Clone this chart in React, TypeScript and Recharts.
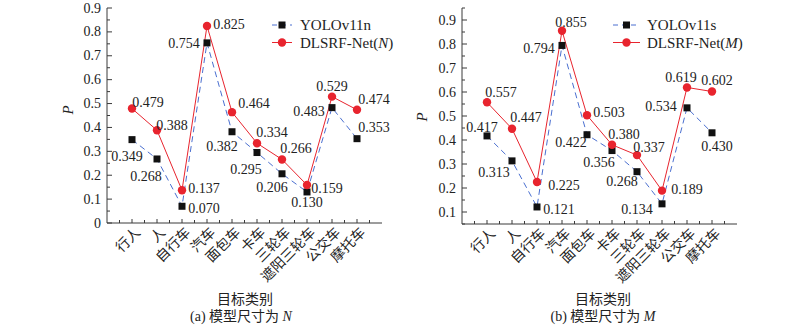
import React from 'react';
import { LineChart, Line, XAxis, YAxis, LabelList } from 'recharts';

const categories = ['行人', '人', '自行车', '汽车', '面包车', '卡车', '三轮车', '遮阳三轮车', '公交车', '摩托车'];
const yoloN = [0.349, 0.268, 0.070, 0.754, 0.382, 0.295, 0.206, 0.130, 0.483, 0.353];
const dlsrfN = [0.479, 0.388, 0.137, 0.825, 0.464, 0.334, 0.266, 0.159, 0.529, 0.474];
const yoloS = [0.417, 0.313, 0.121, 0.794, 0.422, 0.356, 0.268, 0.134, 0.534, 0.430];
const dlsrfM = [0.557, 0.447, 0.225, 0.855, 0.503, 0.380, 0.337, 0.189, 0.619, 0.602];

// label offsets (dx, dy) from each marker
const offYoloN = [[-5, 17], [-11, 18], [22, 2], [-23, 1], [-10, 15], [-11, 17], [-10, 14], [0, 11], [-23, 4], [17, -11]];
const offDlsrfN = [[16, -6], [15, -5], [22, -2], [22, -1], [22, -9], [15, -11], [14, -11], [20, 3], [0, -10], [17, -10]];
const offYoloS = [[-5, -8], [-18, 12], [22, 3], [-23, 3], [-16, 8], [-13, 12], [-15, 10], [-25, 6], [-26, -1], [5, 14]];
const offDlsrfM = [[14, -10], [14, -11], [27, 3], [9, -8], [22, -3], [12, -10], [12, -8], [25, -1], [-6, -10], [5, -11]];

const SERIF = "'Liberation Serif', 'Times New Roman', 'Noto Sans CJK SC', serif";
const CJK = "'Noto Sans CJK SC', sans-serif";
const AXIS = '#3a3a3a';
const BLUE = '#4a6fd0';
const RED = '#e8242e';

const xTicks = Array.from({ length: 21 }, (_, i) => 0.5 + i * 0.5);

const XTick = (props: any) => {
  const { x, y, payload } = props;
  const v = payload.value;
  const major = Number.isInteger(v);
  const label = major ? categories[v - 1] : null;
  const ax = x + 5;
  const ay = y + 6;
  return (
    <g>
      <line x1={x} x2={x} y1={y} y2={y - (major ? 4 : 3)} stroke={AXIS} />
      {label && (
        <text x={ax} y={ay} transform={`rotate(-45 ${ax} ${ay})`} textAnchor="end"
          dominantBaseline="central" fontSize={14} fontFamily={CJK} fill="#222">{label}</text>
      )}
    </g>
  );
};

const YTick = (props: any) => {
  const { x, y, payload } = props;
  const k = Math.round(payload.value * 20);
  const major = k % 2 === 0;
  const text = k === 0 ? '0' : (k / 20).toFixed(1);
  return (
    <g>
      <line x1={x} x2={x + (major ? 5 : 3)} y1={y} y2={y} stroke={AXIS} />
      {major && (
        <text x={x - 6} y={y} textAnchor="end" dominantBaseline="central"
          fontSize={14} fontFamily={SERIF} fill="#222">{text}</text>
      )}
    </g>
  );
};

const Square = (props: any) => {
  const { cx, cy } = props;
  if (cx == null || cy == null) return null;
  return <rect x={cx - 3.5} y={cy - 3.5} width={7} height={7} fill="#111" />;
};

const Circle = (props: any) => {
  const { cx, cy } = props;
  if (cx == null || cy == null) return null;
  return <circle cx={cx} cy={cy} r={4.2} fill={RED} />;
};

const makeLabel = (offsets: number[][]) => (props: any) => {
  const { x, y, value, index } = props;
  const [dx, dy] = offsets[index];
  return (
    <text x={x + dx} y={y + dy} textAnchor="middle" dominantBaseline="central"
      fontSize={14} fontFamily={SERIF} fill="#222">{Number(value).toFixed(3)}</text>
  );
};

interface PanelProps {
  a: number[];
  b: number[];
  offA: number[][];
  offB: number[][];
  domain: [number, number];
  yTicks: number[];
  axisLeft: number;
  right: number;
  xHeight: number;
}

function Panel({ a, b, offA, offB, domain, yTicks, axisLeft, right, xHeight }: PanelProps) {
  const data = categories.map((c, i) => ({ x: i + 1, name: c, a: a[i], b: b[i] }));
  return (
    <LineChart width={400} height={326} data={data} margin={{ top: 8, right, left: 0, bottom: 0 }}>
      <XAxis dataKey="x" type="number" domain={[0, 11]} ticks={xTicks} interval={0}
        height={xHeight} tickSize={0} tickMargin={0} tickLine={false}
        axisLine={{ stroke: AXIS }} tick={<XTick />} />
      <YAxis type="number" domain={domain} allowDataOverflow ticks={yTicks} interval={0}
        width={axisLeft} tickSize={0} tickMargin={0} tickLine={false}
        axisLine={{ stroke: AXIS }} tick={<YTick />} />
      <Line type="linear" dataKey="a" stroke={BLUE} strokeWidth={1} strokeDasharray="6 4"
        dot={<Square />} activeDot={false} isAnimationActive={false}>
        <LabelList dataKey="a" content={makeLabel(offA)} />
      </Line>
      <Line type="linear" dataKey="b" stroke={RED} strokeWidth={1}
        dot={<Circle />} activeDot={false} isAnimationActive={false}>
        <LabelList dataKey="b" content={makeLabel(offB)} />
      </Line>
    </LineChart>
  );
}

function Legend({ x0, x1, tx, nameA, nameB, italic }: { x0: number; x1: number; tx: number; nameA: string; nameB: string; italic: string }) {
  const mid = (x0 + x1) / 2;
  return (
    <g fontFamily={SERIF} fontSize={15} fill="#222">
      <line x1={x0} x2={x1} y1={25} y2={25} stroke={BLUE} strokeDasharray="5 4" />
      <rect x={mid - 3.5} y={21.5} width={7} height={7} fill="#111" />
      <text x={tx} y={25} dominantBaseline="central">{nameA}</text>
      <line x1={x0} x2={x1} y1={42.5} y2={42.5} stroke={RED} />
      <circle cx={mid} cy={42.5} r={4.2} fill={RED} />
      <text x={tx} y={42.5} dominantBaseline="central">
        {nameB}(<tspan fontStyle="italic">{italic}</tspan>)
      </text>
    </g>
  );
}

export default function App() {
  const ticksN = Array.from({ length: 19 }, (_, k) => k / 20);
  const ticksM = Array.from({ length: 19 }, (_, k) => (k + 1) / 20);
  return (
    <div style={{ position: 'absolute', left: 0, top: 0, width: 800, height: 326, background: '#fff' }}>
      <div style={{ position: 'absolute', left: 0, top: 0 }}>
        <Panel a={yoloN} b={dlsrfN} offA={offYoloN} offB={offDlsrfN} domain={[0, 0.9]}
          yTicks={ticksN} axisLeft={107} right={18} xHeight={103} />
      </div>
      <div style={{ position: 'absolute', left: 400, top: 0 }}>
        <Panel a={yoloS} b={dlsrfM} offA={offYoloS} offB={offDlsrfM} domain={[0.05, 0.95]}
          yTicks={ticksM} axisLeft={62} right={63} xHeight={102} />
      </div>
      <svg width={800} height={326} style={{ position: 'absolute', left: 0, top: 0, pointerEvents: 'none' }}>
        <Legend x0={272} x1={292} tx={300} nameA="YOLOv11n" nameB="DLSRF-Net" italic="N" />
        <Legend x0={613} x1={640} tx={647} nameA="YOLOv11s" nameB="DLSRF-Net" italic="M" />
        <text x={68} y={110} transform="rotate(-90 68 110)" textAnchor="middle" dominantBaseline="central"
          fontFamily={SERIF} fontStyle="italic" fontSize={15} fill="#222">P</text>
        <text x={422} y={117} transform="rotate(-90 422 117)" textAnchor="middle" dominantBaseline="central"
          fontFamily={SERIF} fontStyle="italic" fontSize={15} fill="#222">P</text>
        <text x={245} y={298} textAnchor="middle" dominantBaseline="central" fontFamily={CJK} fontSize={14} fill="#222">目标类别</text>
        <text x={603} y={298} textAnchor="middle" dominantBaseline="central" fontFamily={CJK} fontSize={14} fill="#222">目标类别</text>
        <text x={241} y={316} textAnchor="middle" dominantBaseline="central" fontFamily={SERIF} fontSize={14} fill="#222">
          (a) 模型尺寸为 <tspan fontStyle="italic">N</tspan>
        </text>
        <text x={603} y={316} textAnchor="middle" dominantBaseline="central" fontFamily={SERIF} fontSize={14} fill="#222">
          (b) 模型尺寸为 <tspan fontStyle="italic">M</tspan>
        </text>
      </svg>
    </div>
  );
}
